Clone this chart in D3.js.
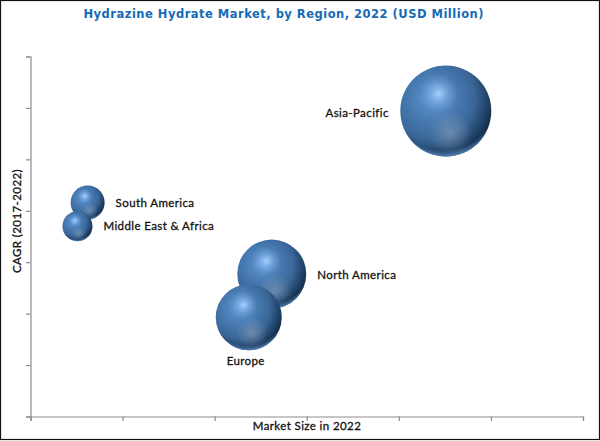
<!DOCTYPE html>
<html>
<head>
<meta charset="utf-8">
<script src="https://cdn.jsdelivr.net/npm/d3@7"></script>
<style>
html, body { margin: 0; padding: 0; background: #fff; }
svg { display: block; }
.label { font-family: Lato, "Open Sans", sans-serif; font-size: 11.5px; font-weight: 400; fill: #111; stroke: #111; stroke-width: 0.3px; letter-spacing: 0.4px; }
.title { font-family: "DejaVu Sans", sans-serif; font-size: 11.5px; font-weight: 700; fill: #156ab5; }
</style>
</head>
<body>
<div class="canvas"></div>
<script>
const width = 600
const height = 441

const regions    = ["Asia-Pacific", "North America", "Europe", "South America", "Middle East & Africa"]
const marketSize = [4.51, 2.62, 2.37, 0.62, 0.51]
const cagr       = [5.94, 2.77, 1.93, 4.16, 3.70]
const bubbleSize = [2070, 1190, 1090, 290, 225]
const labelSide  = ["left", "right", "below", "right", "right"]

const xTicks = [0, 1, 2, 3, 4, 5, 6]
const yTicks = [0, 1, 2, 3, 4, 5, 6, 7]

const svg = d3.select(".canvas")
    .append("svg")
    .attr("width", width)
    .attr("height", height)

const x = d3.scaleLinear().domain([0, 6]).range([30.5, 583])
const y = d3.scaleLinear().domain([0, 7]).range([416.5, 56.5])
const r = d3.scaleSqrt().domain([0, 2070]).range([0, 45.5])

// sphere shading, all in bubble-relative units
const defs = svg.append("defs")

const base = defs.append("radialGradient")
    .attr("id", "sphereBase")
    .attr("cx", 0.36).attr("cy", 0.36).attr("r", 0.74)
base.selectAll("stop")
    .data([[0, "#5f95d2"], [0.4, "#4577ad"], [0.62, "#3a6698"], [0.8, "#21446b"], [0.95, "#12263d"], [1, "#10233a"]])
    .enter().append("stop")
    .attr("offset", d => d[0])
    .attr("stop-color", d => d[1])

const shine = defs.append("radialGradient")
    .attr("id", "sphereShine")
    .attr("cx", 0.42).attr("cy", 0.31).attr("r", 0.22)
shine.selectAll("stop")
    .data([[0, "#a8d4ff", 0.95], [0.45, "#8cbcf0", 0.5], [1, "#6da3dc", 0]])
    .enter().append("stop")
    .attr("offset", d => d[0])
    .attr("stop-color", d => d[1])
    .attr("stop-opacity", d => d[2])

const glow = defs.append("radialGradient")
    .attr("id", "sphereGlow")
    .attr("cx", 0.55).attr("cy", 0.74).attr("r", 0.24)
glow.selectAll("stop")
    .data([[0, "#8ea3b8", 0.55], [1, "#8ea3b8", 0]])
    .enter().append("stop")
    .attr("offset", d => d[0])
    .attr("stop-color", d => d[1])
    .attr("stop-opacity", d => d[2])

// light band along the bottom edge only
const rim = defs.append("radialGradient")
    .attr("id", "sphereRim")
    .attr("cx", 0.47).attr("cy", 0.34).attr("r", 0.67)
rim.selectAll("stop")
    .data([[0, "#4f86c0", 0], [0.88, "#4f86c0", 0], [1, "#5f95cf", 0.95]])
    .enter().append("stop")
    .attr("offset", d => d[0])
    .attr("stop-color", d => d[1])
    .attr("stop-opacity", d => d[2])

// frame
svg.append("rect")
    .attr("x", 0.5).attr("y", 0.5)
    .attr("width", width - 1).attr("height", height - 2)
    .attr("fill", "#fff")
    .attr("stroke", "#111")
    .attr("stroke-width", 1.2)

svg.append("text")
    .attr("class", "title")
    .attr("x", 283.5).attr("y", 18)
    .attr("text-anchor", "middle")
    .attr("textLength", 400)
    .text("Hydrazine Hydrate Market, by Region, 2022 (USD Million)")

// axes
const xAxis = svg.append("g")
    .attr("transform", `translate(0,${y(0)})`)
    .call(d3.axisBottom(x).tickValues(xTicks).tickSize(4.5).tickFormat(""))

const yAxis = svg.append("g")
    .attr("transform", `translate(${x(0)},0)`)
    .call(d3.axisLeft(y).tickValues(yTicks).tickSize(4.5).tickFormat(""))

svg.selectAll(".domain, .tick line")
    .attr("stroke", "#8c8c8c")
    .attr("stroke-width", 1.2)

svg.append("text")
    .attr("class", "label")
    .attr("x", 307).attr("y", 430)
    .attr("text-anchor", "middle")
    .text("Market Size in 2022")

svg.append("text")
    .attr("class", "label")
    .attr("transform", "translate(21,221) rotate(-90)")
    .attr("text-anchor", "middle")
    .text("CAGR (2017-2022)")

// bubbles
const data = regions.map((name, i) => ({
    name,
    market: marketSize[i],
    cagr: cagr[i],
    size: bubbleSize[i],
    side: labelSide[i]
}))

const bubble = svg.selectAll("g.bubble")
    .data(data)
    .enter().append("g")
    .attr("class", "bubble")
    .attr("transform", d => `translate(${x(d.market)},${y(d.cagr)})`)

const layers = ["sphereBase", "sphereGlow", "sphereShine", "sphereRim"]
layers.forEach(id => {
    bubble.append("circle")
        .attr("r", d => r(d.size))
        .attr("fill", `url(#${id})`)
})

// labels sit next to their bubble
svg.selectAll("text.region")
    .data(data)
    .enter().append("text")
    .attr("class", "label region")
    .attr("x", d => {
        if (d.side === "left") return x(d.market) - r(d.size) - 11.5
        if (d.side === "below") return x(d.market) - 3
        return x(d.market) + r(d.size) + 11
    })
    .attr("y", d => {
        if (d.side === "below") return y(d.cagr) + r(d.size) + 15
        if (d.name === "North America") return y(d.cagr) + 5
        return y(d.cagr) + (d.side === "left" ? 6 : 4)
    })
    .attr("text-anchor", d => d.side === "left" ? "end" : d.side === "below" ? "middle" : "start")
    .text(d => d.name)
</script>
</body>
</html>
